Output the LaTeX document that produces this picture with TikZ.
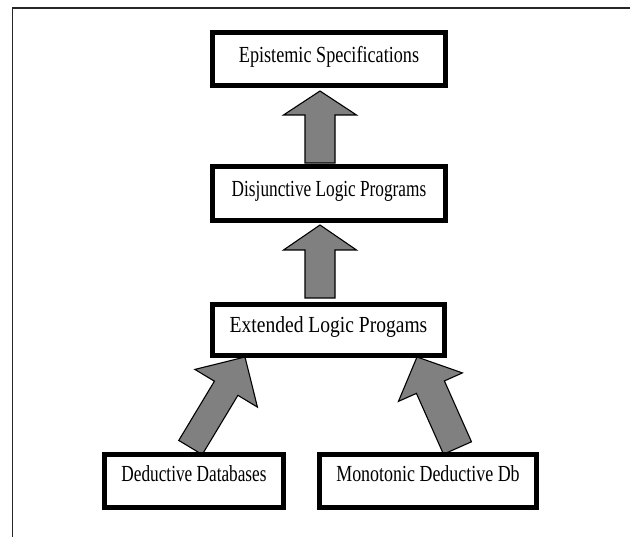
\documentclass[tikz,border=0pt]{standalone}
\usepackage{fontspec}
\setmainfont{Liberation Serif}
\usetikzlibrary{calc,backgrounds}
\definecolor{arrgray}{HTML}{808080}
\newcommand{\blockarrow}[5]{%
  \coordinate (ah) at ($(#2)!#3!(#1)$);
  \draw[blockarr] ($(#1)!#4!90:(#2)$) -- ($(ah)!#4!90:(#2)$) -- ($(ah)!#5!90:(#2)$) -- (#2)
    -- ($(ah)!#5!-90:(#2)$) -- ($(ah)!#4!-90:(#2)$) -- ($(#1)!#4!-90:(#2)$) -- cycle;
}
\begin{document}
\begin{tikzpicture}[x=1pt,y=-1pt,
  box/.style={draw=black, line width=5pt, fill=white, inner sep=0pt, outer sep=0pt,
    text depth=0pt, font=\fontsize{23}{26}\selectfont},
  blockarr/.style={fill=arrgray, draw=black, line width=1.1pt, line join=miter},
  frame/.style={draw=black!85, line width=1.5pt}]
\useasboundingbox (0,0) rectangle (630,537);
\draw[frame] (12.5,537) -- (12.5,8) -- (630,8);

\node[box, minimum width=233pt, minimum height=53pt, text height=8pt] (epi) at (329,59)
  {\scalebox{0.79}[1]{Epistemic Specifications}};
\node[box, minimum width=233pt, minimum height=54pt, text height=7pt] (disj) at (329,193.5)
  {\scalebox{0.75}[1]{Disjunctive Logic Programs}};
\node[box, minimum width=232pt, minimum height=51pt, text height=6pt] (ext) at (328.5,330)
  {\scalebox{0.85}[1]{Extended Logic Progams}};
\node[box, minimum width=179pt, minimum height=53pt, text height=2pt] (ded) at (194,481)
  {\scalebox{0.75}[1]{Deductive Databases}};
\node[box, minimum width=217pt, minimum height=53pt, text height=2pt] (mono) at (428,481)
  {\scalebox{0.78}[1]{Monotonic Deductive Db}};

\coordinate (a1b) at ($(disj)+(-9,-30.5)$);
\coordinate (a1t) at ($(epi)+(-9,32)$);
\coordinate (a2b) at ($(ext)+(-8.5,-32)$);
\coordinate (a2t) at ($(disj)+(-9,31.5)$);
\coordinate (a3b) at ($(ded)+(-3.5,-33.5)$);
\coordinate (a3t) at ($(ext)+(-83.5,27)$);
\coordinate (a4b) at ($(mono)+(29.5,-33)$);
\coordinate (a4t) at ($(ext)+(88.5,27)$);

\begin{scope}[on background layer]
\blockarrow{a1b}{a1t}{24pt}{15pt}{36.5pt}
\blockarrow{a2b}{a2t}{25pt}{15pt}{36.5pt}
\blockarrow{a3b}{a3t}{36.5pt}{13.7pt}{36.5pt}
\blockarrow{a4b}{a4t}{33pt}{15.3pt}{35pt}
\end{scope}
\end{tikzpicture}
\end{document}
